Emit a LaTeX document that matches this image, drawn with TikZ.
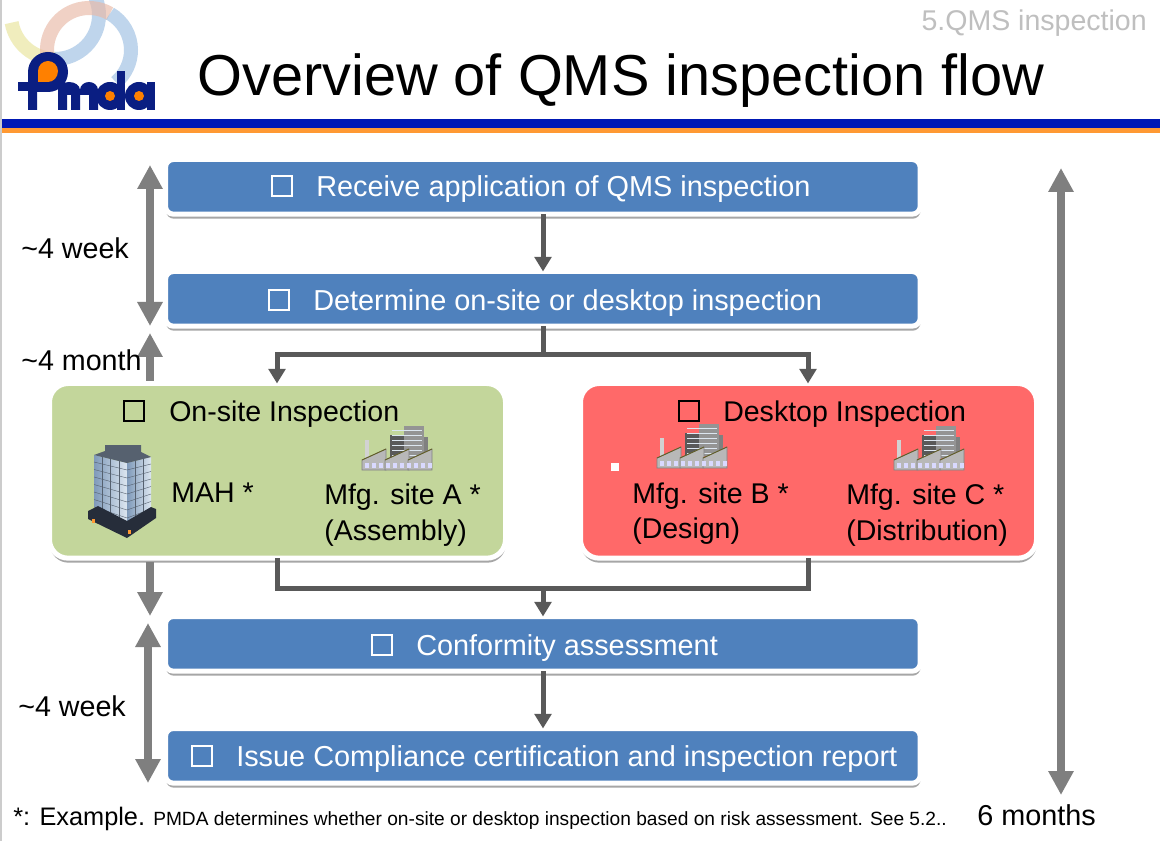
\documentclass[tikz,border=0pt]{standalone}
\usepackage{fontspec}
\setmainfont{Liberation Sans}
\usetikzlibrary{arrows.meta,shadows}
\definecolor{boxblue}{HTML}{4F81BD}
\definecolor{sitegreen}{HTML}{C3D69B}
\definecolor{sitered}{HTML}{FF6969}
\definecolor{flowgray}{HTML}{595959}
\definecolor{spangray}{HTML}{7F7F7F}
\definecolor{pmdanavy}{HTML}{0A1E82}
\definecolor{pmdaorange}{HTML}{FF8000}
\definecolor{bandblue}{HTML}{0018B4}
\definecolor{bandorange}{HTML}{FF9933}
\definecolor{ringyellow}{HTML}{E8E49A}
\definecolor{ringblue}{HTML}{9DBFE2}
\definecolor{ringsalmon}{HTML}{E9B9A6}
\definecolor{glassdark}{HTML}{7F9ABA}
\definecolor{glasslight}{HTML}{DCE6F0}
\definecolor{roofslate}{HTML}{56616F}
\definecolor{baseslate}{HTML}{262D3A}
\definecolor{shedgray}{HTML}{B8B8B8}
\newcommand{\pxfont}[1]{\fontsize{#1}{#1}\selectfont}
\tikzset{
	panel/.style={draw=white, line width=3.75pt, rounded corners=6pt, anchor=north west, inner sep=0pt, outer sep=0pt,
		drop shadow={shadow xshift=0.3pt, shadow yshift=-3.4pt, opacity=0.35, fill=black}},
	stepbox/.style={panel, fill=boxblue, minimum width=566pt, minimum height=41pt},
	sitebox/.style={panel, rounded corners=14pt, minimum width=342pt, minimum height=131pt},
	steptext/.style={text=white, font=\pxfont{21.65}, inner sep=0pt},
	sitetext/.style={text=black, font=\pxfont{21.4}, inner sep=0pt, align=left},
	spantext/.style={text=black, font=\pxfont{21.5}, inner sep=0pt, anchor=west},
	chk/.style={draw, line width=1.5pt, minimum size=15pt, inner sep=0pt, outer sep=0pt},
	ring/.style={line width=10.5pt, opacity=0.65},
	flow/.style={draw=flowgray, line width=3.75pt, -{Triangle[width=12.5pt,length=11pt]}},
	flowline/.style={draw=flowgray, line width=3.75pt},
	span/.style={draw=spangray, line width=6pt, {Triangle[width=18pt,length=18pt]}-{Triangle[width=18pt,length=18pt]}},
	spanup/.style={draw=spangray, line width=6pt, -{Triangle[width=18pt,length=18pt]}},
	factory/.pic={
		\fill[gray!35] (3,14) rectangle (7,33);
		\fill[black!65] (28,9) rectangle (42,32);
		\fill[black!42] (42,0) rectangle (62,32);
		\fill[black!50] (62,11) rectangle (66,32);
		\foreach \yy in {4,9,...,29} \draw[glasslight, line width=0.5pt] (30,\yy) -- (60,\yy);
		\foreach \xa in {0,23,46}
			\filldraw[fill=shedgray, draw=gray, line width=0.4pt] (\xa,34) -- (\xa+24,23) -- (\xa+24,44) -- (\xa,44) -- cycle;
		\foreach \xa in {0,23,46} \draw[olive!60!black, line width=0.7pt] (\xa,34) -- (\xa+24,23);
		\foreach \xa in {3,10,...,66} \fill[blue!15] (\xa,37) rectangle (\xa+4,42);
	},
}
\begin{document}
\begin{tikzpicture}[x=0.75pt, y=-0.75pt]
	\useasboundingbox (0,0) rectangle (1160,841);
	\fill[white] (0,0) rectangle (1160,841);

	\begin{scope}
		\clip (2,0) rectangle (160,118);
		\draw[ring, ringyellow] (55,15) ++(170:44) arc[start angle=170, end angle=90, radius=44];
		\draw[ring, ringblue] (55,15) ++(90:44) arc[start angle=90, end angle=-40, radius=44];
		\draw[ring, ringsalmon] (89,50) ++(160:42) arc[start angle=160, end angle=300, radius=42];
		\draw[ring, ringblue] (89,50) ++(300:42) arc[start angle=300, end angle=410, radius=42];
	\end{scope}

	\fill[pmdanavy] (28,110) -- (28,72) arc[start angle=180, end angle=0, x radius=20, y radius=-20] arc[start angle=0, end angle=-90, x radius=20, y radius=-20] -- (37,92) -- (37,110) -- cycle;
	\fill[pmdanavy] (18,82) rectangle (37,91);
	\fill[pmdaorange] (38,82) -- (38,71) arc[start angle=180, end angle=0, x radius=10, y radius=-10] arc[start angle=0, end angle=-90, x radius=10, y radius=-11] -- cycle;
	\fill[pmdanavy] (58,110) -- (58,90) arc[start angle=180, end angle=0, x radius=11, y radius=-8] arc[start angle=180, end angle=0, x radius=9, y radius=-8] -- (98,110) -- (89,110) -- (89,95) -- (80,95) -- (80,110) -- (71,110) -- (71,95) -- (67,95) -- (67,110) -- cycle;
	\fill[pmdanavy] (110,96) circle[radius=14];
	\fill[pmdanavy] (117,71) rectangle (125,110);
	\fill[pmdaorange] (110,96) circle[radius=5];
	\fill[pmdanavy] (139,96) circle[radius=14];
	\fill[pmdanavy] (147,82) rectangle (155,110);
	\fill[pmdaorange] (139,96) circle[radius=5];

	\fill[gray!40] (0,0) rectangle (2,841);
	\fill[bandblue] (2,119) rectangle (1160,128);
	\fill[bandorange] (2,128) rectangle (1160,133);

	\node[font=\pxfont{21.4}, text=black!25, anchor=east, inner sep=0pt] (section) at (1147,23) {5.QMS inspection};
	\node[font=\pxfont{43.3}, anchor=west, inner sep=0pt] (title) at (197,81) {Overview of QMS inspection flow};

	\node[stepbox] (receive) at (165.5,159.5) {};
	\node[stepbox] (determine) at (165.5,271.5) {};
	\node[stepbox] (conform) at (165.5,616.5) {};
	\node[stepbox] (issue) at (165.5,728.5) {};
	\node[sitebox, fill=sitegreen] (onsite) at (49.5,383.5) {};
	\node[sitebox, fill=sitered] (desktop) at (580.5,383.5) {};

	\node[chk, draw=white] (receivechk) at (282,186) {};
	\node[steptext, anchor=west] (receivetxt) at (316,189) {Receive application of QMS inspection};
	\node[chk, draw=white] (determinechk) at (279,300) {};
	\node[steptext, anchor=west] (determinetxt) at (313,303) {Determine on-site or desktop inspection};
	\node[chk, draw=white] (conformchk) at (382,645) {};
	\node[steptext, anchor=west] (conformtxt) at (416,648) {Conformity assessment};
	\node[chk, draw=white] (issuechk) at (202,756) {};
	\node[steptext, anchor=west] (issuetxt) at (236,759) {Issue Compliance certification and inspection report};

	\node[chk, draw=black] (onsitechk) at (134,411) {};
	\node[sitetext, anchor=west] (onsitetxt) at (169,414) {On-site Inspection};
	\node[chk, draw=black] (desktopchk) at (689,411) {};
	\node[sitetext, anchor=west] (desktoptxt) at (723,414) {Desktop Inspection};

	\node[sitetext, anchor=west] (mah) at (171,493) {MAH *};
	\node[sitetext, anchor=north west] (sitea) at (324,484) {Mfg. site A *\\[5pt](Assembly)};
	\node[sitetext, anchor=north west] (siteb) at (632,483) {Mfg. site B *\\[4.5pt](Design)};
	\node[sitetext, anchor=north west] (sitec) at (846,484) {Mfg. site C *\\[5pt](Distribution)};
	\node[fill=white, minimum size=5.5pt, inner sep=0pt] (dot) at (615,467) {};

	\pic at (362,426) {factory};
	\pic at (657,424) {factory};
	\pic at (894,426) {factory};

	\shade[left color=glassdark, right color=glasslight] (94,455) -- (127,463) -- (127,522) -- (94,507) -- cycle;
	\shade[left color=glassdark, right color=glasslight] (127,463) -- (151,457) -- (151,508) -- (127,522) -- cycle;
	\fill[roofslate] (94,455) -- (105,451) -- (105,445) -- (141,445) -- (141,452) -- (151,457) -- (127,463) -- cycle;
	\foreach \ff in {0,1,...,6} {
		\draw[roofslate, line width=0.3pt] (94,{462+\ff*7.5}) -- (127,{470+\ff*8});
		\draw[roofslate, line width=0.3pt] (127,{470+\ff*8}) -- (151,{464+\ff*7.5});
	}
	\foreach \ff in {1,2,3} \draw[roofslate, line width=0.3pt] ({94+\ff*8.25},{455+\ff*2}) -- ({94+\ff*8.25},{507+\ff*3.7});
	\foreach \ff in {1,2} \draw[roofslate, line width=0.3pt] ({127+\ff*8},{463-\ff*2}) -- ({127+\ff*8},{522-\ff*4.7});
	\fill[baseslate] (88,511) -- (98,506) -- (127,521) -- (151,507) -- (156,509) -- (156,518) -- (127,538) -- (88,519) -- cycle;
	\fill[orange!80] (92,519) rectangle (95,523);
	\fill[orange!80] (128,530) rectangle (131,534);

	\coordinate (splittop) at (543,355);
	\coordinate (splitleft) at (277,355);
	\coordinate (splitright) at (808,355);
	\coordinate (mergeleft) at (277,588);
	\coordinate (mergeright) at (808,588);
	\coordinate (mergemid) at (543,588);
	\coordinate (onsitein) at (277,383.5);
	\coordinate (desktopin) at (808,383.5);

	\path (receive.south -| splittop) edge[flow] (determine.north -| splittop)
	(conform.south -| splittop) edge[flow] (issue.north -| splittop)
	(determine.south -| splittop) edge[flowline] (splittop)
	(mergemid) edge[flow] (conform.north -| mergemid);
	\draw[flow] (splittop) -- (splitleft) -- (onsitein);
	\draw[flow] (splittop) -- (splitright) -- (desktopin);
	\draw[flowline, line join=miter] (onsite.south -| mergeleft) -- (mergeleft) -- (mergeright) -- (desktop.south -| mergeright);

	\coordinate (lefttop) at (150,165);
	\coordinate (leftmid) at (150,326);
	\coordinate (monthtail) at (150,381);
	\coordinate (monthtip) at (150,333);
	\coordinate (downtail) at (150,562);
	\coordinate (downtip) at (150,616);
	\coordinate (lefttwo) at (148,623);
	\coordinate (leftend) at (148,783);
	\coordinate (righttop) at (1061,168);
	\coordinate (rightend) at (1061,795);

	\draw[span] (lefttop) -- (leftmid);
	\draw[spanup] (monthtail) -- (monthtip);
	\draw[spanup] (downtail) -- (downtip);
	\draw[span] (lefttwo) -- (leftend);
	\draw[span] (righttop) -- (rightend);

	\node[spantext] (weeka) at (21,248) {\textasciitilde4 week};
	\node[spantext] (montha) at (21,360) {\textasciitilde4 month};
	\node[spantext] (weekb) at (18,706) {\textasciitilde4 week};
	\node[spantext, font=\pxfont{21.6}] (sixmonths) at (977,815) {6 months};
	\node[sitetext, anchor=base west, font=\pxfont{19}] (example) at (13,825) {*: Example.};
	\node[sitetext, anchor=base west, font=\pxfont{14.36}] (note) at (153,825) {PMDA determines whether on-site or desktop inspection based on risk assessment. See 5.2..};
\end{tikzpicture}
\end{document}
